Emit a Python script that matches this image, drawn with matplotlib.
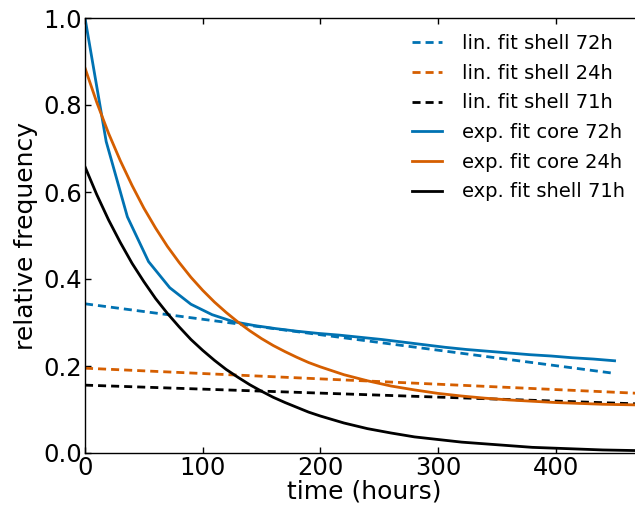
import numpy as np
import matplotlib
matplotlib.use('Agg')
import matplotlib.pyplot as plt

# values
# exp. fit core 72h (coarse sampling, every 18 h)
t_core72 = [0, 18, 36, 54, 72, 90, 108, 126, 144, 162, 180, 198, 216, 234,
            252, 270, 288, 306, 324, 342, 360, 378, 396, 414, 432, 450]
exp_core72 = [1.0, 0.716, 0.543, 0.44, 0.38, 0.342, 0.318, 0.302, 0.293, 0.286,
              0.280, 0.275, 0.271, 0.266, 0.261, 0.255, 0.249, 0.243, 0.238,
              0.234, 0.230, 0.226, 0.223, 0.219, 0.216, 0.212]

# smooth exp. fits, read every 10 h up to 200 h, then every 20 h
t_fine = [0, 10, 20, 30, 40, 50, 60, 70, 80, 90, 100, 110, 120, 130, 140,
          150, 160, 170, 180, 190, 200, 220, 240, 260, 280, 300, 320, 340,
          360, 380, 400, 420, 440, 460, 480]
exp_core24 = [0.885, 0.806, 0.735, 0.672, 0.615, 0.563, 0.517, 0.475, 0.438,
              0.404, 0.374, 0.347, 0.323, 0.301, 0.281, 0.263, 0.247, 0.233,
              0.220, 0.208, 0.198, 0.180, 0.166, 0.154, 0.145, 0.137, 0.131,
              0.126, 0.122, 0.119, 0.116, 0.114, 0.112, 0.111, 0.110]
exp_shell71 = [0.658, 0.594, 0.536, 0.484, 0.436, 0.394, 0.355, 0.321, 0.290,
               0.261, 0.236, 0.213, 0.192, 0.174, 0.157, 0.142, 0.128, 0.116,
               0.105, 0.094, 0.085, 0.069, 0.056, 0.046, 0.037, 0.031, 0.025,
               0.021, 0.017, 0.013, 0.011, 0.009, 0.007, 0.006, 0.005]

# linear fits: (start, end) points
t_lin72 = [0, 450]
lin_shell72 = [0.343, 0.183]
t_lin = [0, 480]
lin_shell24 = [0.195, 0.136]
lin_shell71 = [0.156, 0.112]

blue = '#0072B2'
orange = '#D55E00'
black = 'k'

plt.rcParams['lines.scale_dashes'] = False
dash = (0, (5.8, 3.6))

fig = plt.figure(figsize=(6.35, 5.07), dpi=100)
ax = fig.add_axes([85/635, 1 - 453/507, 559/635, 435/507])

ax.plot(t_lin72, lin_shell72, color=blue, lw=2, linestyle=dash, label='lin. fit shell 72h')
ax.plot(t_lin, lin_shell24, color=orange, lw=2, linestyle=dash, label='lin. fit shell 24h')
ax.plot(t_lin, lin_shell71, color=black, lw=2, linestyle=dash, label='lin. fit shell 71h')
ax.plot(t_core72, exp_core72, color=blue, lw=2, label='exp. fit core 72h')
ax.plot(t_fine, exp_core24, color=orange, lw=2, label='exp. fit core 24h')
ax.plot(t_fine, exp_shell71, color=black, lw=2, label='exp. fit shell 71h')

ax.set_xlim(0, 475)
ax.set_ylim(0, 1.0)
ax.set_xticks([0, 100, 200, 300, 400])
ax.set_yticks([0.0, 0.2, 0.4, 0.6, 0.8, 1.0])
ax.tick_params(direction='in', length=4, width=1, labelsize=17.5, top=True, right=True)
ax.tick_params(axis='x', pad=2)
ax.tick_params(axis='y', pad=2)
for s in ax.spines.values():
    s.set_linewidth(1)

ax.set_xlabel('time (hours)', fontsize=18, labelpad=0)
ax.set_ylabel('relative frequency', fontsize=18, labelpad=4)

ax.legend(loc='upper left', bbox_to_anchor=(412/635, 1 - 34/507),
          bbox_transform=fig.transFigure, frameon=False, fontsize=14,
          handlelength=1.55, handletextpad=1.0, labelspacing=0.55,
          borderpad=0, borderaxespad=0)

fig.savefig('out.png', dpi=100)
